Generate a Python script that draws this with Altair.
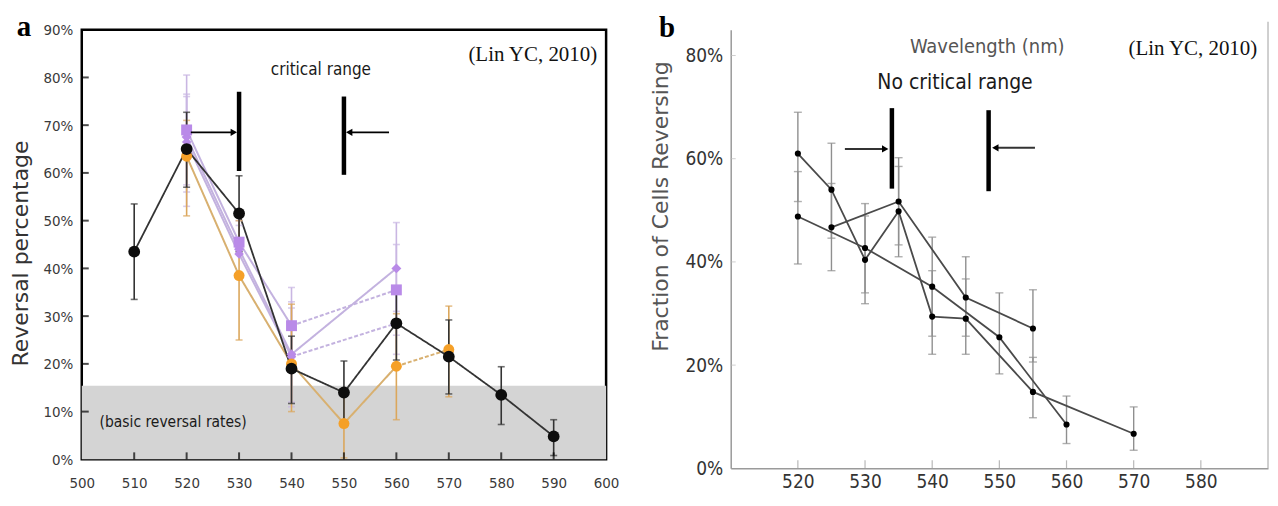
import altair as alt
import pandas as pd

# ---------------- panel a data ----------------
A_WL_BLACK = [510, 520, 530, 540, 550, 560, 570, 580, 590]
A_BLACK = [43.5, 65.0, 51.5, 19.0, 14.0, 28.5, 21.5, 13.5, 4.8]
A_BLACK_LO = [33.5, 57.0, 43.5, 11.7, 7.5, 20.8, 13.7, 7.3, 0.8]
A_BLACK_HI = [53.5, 72.7, 59.4, 25.8, 20.6, 35.8, 29.2, 19.4, 8.3]

A_WL_ORANGE = [520, 530, 540, 550, 560, 570]
A_ORANGE = [63.5, 38.5, 20.0, 7.5, 19.5, 23.0]
A_ORANGE_LO = [51.0, 25.0, 10.0, 0.3, 8.3, 13.1]
A_ORANGE_HI = [71.0, 50.0, 32.5, 14.5, 30.5, 32.1]

A_WL_PURPLE = [520, 530, 540, 560]
A_PURPLE_SQ = [69.0, 45.5, 28.0, 35.5]
A_PURPLE_SQ_LO = [57.5, 44.0, 20.5, 26.0]
A_PURPLE_SQ_HI = [80.5, 51.0, 36.0, 45.0]
A_PURPLE_DI = [67.5, 44.0, 22.0, 40.0]
A_PURPLE_DI_LO = [53.0, 43.5, 11.0, 31.0]
A_PURPLE_DI_HI = [76.5, 50.0, 33.0, 49.6]
A_PURPLE_TR = [66.5, 43.0, 21.5, 28.5]
A_PURPLE_TR_LO = [56.0, 43.5, 12.0, 22.0]
A_PURPLE_TR_HI = [76.0, 49.0, 31.7, 35.0]

A_BAND_TOP = 15.4
A_CRIT_WL = [530, 550]
A_CRIT_LO = [60.4, 59.6]
A_CRIT_HI = [77.0, 76.0]
A_ARROW_FROM = [520.8, 558.6]
A_ARROW_TO = [529.0, 551.0]
A_ARROW_Y = [68.5, 68.5]
A_ARROW_DIR = ["triangle-right", "triangle-left"]

A_X_TICKS = list(range(500, 601, 10))
A_Y_TICKS = list(range(0, 91, 10))

# ---------------- panel b data ----------------
B_S1_WL = [520, 530, 540, 550, 560]
B_S1 = [48.8, 42.7, 35.2, 25.4, 8.5]
B_S1_LO = [39.6, 34.0, 25.6, 18.3, 4.8]
B_S1_HI = [57.5, 51.3, 44.8, 34.0, 14.0]

B_S2_WL = [520, 525, 530, 535, 540, 545, 555, 570]
B_S2 = [61.0, 54.0, 40.4, 49.8, 29.4, 29.0, 14.8, 6.7]
B_S2_LO = [51.7, 44.6, 31.9, 41.0, 22.1, 22.1, 9.8, 3.5]
B_S2_HI = [69.0, 63.0, 48.9, 58.5, 38.3, 36.7, 21.5, 11.9]

B_S3_WL = [525, 535, 545, 555]
B_S3 = [46.7, 51.7, 33.1, 27.1]
B_S3_LO = [38.3, 43.3, 25.6, 20.6]
B_S3_HI = [55.2, 60.2, 41.0, 34.6]

B_CRIT_WL = [534.0, 548.4]
B_CRIT_LO = [54.2, 53.7]
B_CRIT_HI = [69.8, 69.4]
B_ARROW_FROM = [527.0, 555.3]
B_ARROW_TO = [533.0, 549.4]
B_ARROW_Y = [61.9, 62.1]
B_ARROW_DIR = ["triangle-right", "triangle-left"]

B_X_TICKS = list(range(520, 581, 10))
B_Y_TICKS = [0, 20, 40, 60, 80]

NARROW = "DejaVu Sans Condensed, Liberation Sans, sans-serif"
SANS = "DejaVu Sans Condensed, Liberation Sans, sans-serif"
SERIF = "Liberation Serif, Times New Roman, serif"

# ---------------- helpers ----------------
def series_df(wl, val, lo, hi):
    return pd.DataFrame({"wl": wl, "val": val, "lo": lo, "hi": hi})


def seg_df(name, wl, val, dashed_from=()):
    rows = []
    for i in range(len(wl) - 1):
        style = "dashed" if wl[i] in dashed_from else "solid"
        for j, k in enumerate((i, i + 1)):
            rows.append({"seg": f"{name}{i}", "style": style, "wl": wl[k], "val": val[k], "ord": j})
    return pd.DataFrame(rows)


# ---------------- panel a ----------------
WA, HA = 526, 431
xsA = alt.Scale(domain=[500, 600], nice=False, zero=False)
ysA = alt.Scale(domain=[0, 90], nice=False)
xaxA = alt.Axis(values=A_X_TICKS, title=None, labelFont=NARROW, labelFontSize=15,
                labelColor="#3a3a3a", labelPadding=16.5, ticks=False, domain=False,
                grid=False, labelFlush=False, labelOverlap=False)
yaxA = alt.Axis(values=A_Y_TICKS, labelExpr="datum.value + '%'", title="Reversal percentage",
                titleFont="DejaVu Sans", titleFontSize=22, titleFontWeight="normal",
                titleColor="#333", titleX=-49, titleY=224, labelFont=NARROW,
                labelFontSize=15, labelColor="#3a3a3a", labelPadding=9, ticks=False,
                domain=False, grid=False, labelOverlap=False)


def XA(f="wl"):
    return alt.X(f"{f}:Q", scale=xsA, axis=xaxA)


def YA(f="val"):
    return alt.Y(f"{f}:Q", scale=ysA, axis=yaxA)


band = alt.Chart(pd.DataFrame({"x1": [A_X_TICKS[0]], "x2": [A_X_TICKS[-1]], "y1": [0], "y2": [A_BAND_TOP]})).mark_rect(
    color="#d4d4d4").encode(x=XA("x1"), x2="x2", y=YA("y1"), y2="y2")

tickA_x = alt.Chart(pd.DataFrame({"wl": A_X_TICKS[1:-1]})).mark_tick(
    orient="vertical", color="black", size=7, thickness=2).encode(x=XA(), y=alt.value(HA - 3.5))
tickA_y = alt.Chart(pd.DataFrame({"val": A_Y_TICKS[1:-1]})).mark_tick(
    orient="horizontal", color="black", size=7, thickness=2).encode(y=YA(), x=alt.value(3.5))


def a_series(wl, val, lo, hi, name, line_color, mark_color, err_color, shape, size,
             dashed_from=(), width=2.0):
    d = series_df(wl, val, lo, hi)
    s = seg_df(name, wl, val, dashed_from)
    line = alt.Chart(s).mark_line(color=line_color, strokeWidth=width).encode(
        x=XA(), y=YA(), detail="seg:N", order="ord:Q",
        strokeDash=alt.StrokeDash("style:N", scale=alt.Scale(domain=["solid", "dashed"],
                                  range=[[1, 0], [4, 2]]), legend=None))
    rule = alt.Chart(d).mark_rule(color=err_color, strokeWidth=1.6).encode(x=XA(), y=YA("lo"), y2="hi")
    cap_lo = alt.Chart(d).mark_tick(orient="horizontal", color=err_color, size=7, thickness=1.6).encode(x=XA(), y=YA("lo"))
    cap_hi = alt.Chart(d).mark_tick(orient="horizontal", color=err_color, size=7, thickness=1.6).encode(x=XA(), y=YA("hi"))
    pts = alt.Chart(d).mark_point(shape=shape, filled=True, opacity=1, color=mark_color, size=size).encode(x=XA(), y=YA())
    return [line], [rule, cap_lo, cap_hi], [pts]


P_LINE, P_MARK, P_ERR = "#c3b2df", "#b98ae8", "#c9b6e2"
O_LINE, O_MARK, O_ERR = "#d8b070", "#f5a028", "#dba75c"
K_LINE, K_MARK, K_ERR = "#333333", "#0d0d0d", "#333333"

ptr = a_series(A_WL_PURPLE, A_PURPLE_TR, A_PURPLE_TR_LO, A_PURPLE_TR_HI, "ptr", P_LINE, P_MARK, P_ERR, "diamond", 90, dashed_from=(540,))
pdi = a_series(A_WL_PURPLE, A_PURPLE_DI, A_PURPLE_DI_LO, A_PURPLE_DI_HI, "pdi", P_LINE, P_MARK, P_ERR, "diamond", 100)
psq = a_series(A_WL_PURPLE, A_PURPLE_SQ, A_PURPLE_SQ_LO, A_PURPLE_SQ_HI, "psq", P_LINE, P_MARK, P_ERR, "square", 120, dashed_from=(540,))
org = a_series(A_WL_ORANGE, A_ORANGE, A_ORANGE_LO, A_ORANGE_HI, "org", O_LINE, O_MARK, O_ERR, "circle", 120, dashed_from=(560,))
blk = a_series(A_WL_BLACK, A_BLACK, A_BLACK_LO, A_BLACK_HI, "blk", K_LINE, K_MARK, K_ERR, "circle", 140, width=1.8)

crit_a = pd.DataFrame({"wl": A_CRIT_WL, "lo": A_CRIT_LO, "hi": A_CRIT_HI})
arr_a = pd.DataFrame({"x1": A_ARROW_FROM, "x2": A_ARROW_TO, "val": A_ARROW_Y, "shape": A_ARROW_DIR})
critA = alt.Chart(crit_a).mark_rule(color="black", strokeWidth=4.5).encode(x=XA(), y=YA("lo"), y2="hi")
arrA = alt.Chart(arr_a).mark_rule(color="black", strokeWidth=1.8).encode(x=XA("x1"), x2="x2", y=YA())
headA = alt.Chart(arr_a).mark_point(filled=True, opacity=1, color="black", size=55).encode(
    x=XA("x2"), y=YA(), shape=alt.Shape("shape:N", scale=None))

txtA = pd.DataFrame({
    "wl": [545.6, 503.4, 598.3],
    "val": [81.6, 7.9, 84.6],
    "t": ["critical range", "(basic reversal rates)", "(Lin YC, 2010)"],
})
tA1 = alt.Chart(txtA.iloc[[0]]).mark_text(font=NARROW, fontSize=17, color="#1a1a1a", align="center", baseline="middle").encode(x=XA(), y=YA(), text="t:N")
tA2 = alt.Chart(txtA.iloc[[1]]).mark_text(font=NARROW, fontSize=15.5, color="#1a1a1a", align="left", baseline="middle").encode(x=XA(), y=YA(), text="t:N")
tA3 = alt.Chart(txtA.iloc[[2]]).mark_text(font=SERIF, fontSize=21, color="#111", align="right", baseline="middle").encode(x=XA(), y=YA(), text="t:N")
labA = alt.Chart(pd.DataFrame({"t": ["a"]})).mark_text(font=SERIF, fontSize=29, fontWeight="bold", color="black", align="center", baseline="alphabetic").encode(
    x=alt.value(-58), y=alt.value(6), text="t:N")

layersA = [band]
for grp in (ptr, pdi, psq, org, blk):
    layersA += grp[0]
for grp in (ptr, pdi, psq, org, blk):
    layersA += grp[1]
for grp in (ptr, pdi, psq, org, blk):
    layersA += grp[2]
layersA += [tickA_x, tickA_y, critA, arrA, headA, tA1, tA2, tA3, labA]

panelA = alt.layer(*layersA).properties(
    width=WA, height=HA, view=alt.ViewBackground(stroke="black", strokeWidth=2.5))

# ---------------- panel b ----------------
WB, HB = 539, 440
xsB = alt.Scale(domain=[510, 590], nice=False, zero=False)
ysB = alt.Scale(domain=[0, 85], nice=False)
xaxB = alt.Axis(values=B_X_TICKS, title=None, labelFont=NARROW, labelFontSize=19,
                labelColor="#333", labelPadding=4.5, ticks=False, domain=True,
                domainColor="#9a9a9a", domainWidth=1.5, grid=False, labelFlush=False,
                labelOverlap=False)
yaxB = alt.Axis(values=B_Y_TICKS, labelExpr="datum.value + '%'", title="Fraction of Cells Reversing",
                titleFont="DejaVu Sans", titleFontSize=22, titleFontWeight="normal",
                titleColor="#555", titleX=-58, titleY=177, labelFont=NARROW,
                labelFontSize=19, labelColor="#333", labelPadding=8, ticks=False,
                domain=True, domainColor="#9a9a9a", domainWidth=1.5, grid=False,
                labelOverlap=False)


def XB(f="wl"):
    return alt.X(f"{f}:Q", scale=xsB, axis=xaxB)


def YB(f="val"):
    return alt.Y(f"{f}:Q", scale=ysB, axis=yaxB)


tickB_x = alt.Chart(pd.DataFrame({"wl": B_X_TICKS})).mark_tick(
    orient="vertical", color="#9a9a9a", size=8, thickness=1.2).encode(x=XB(), y=alt.value(HB - 4))
tickB_y = alt.Chart(pd.DataFrame({"val": B_Y_TICKS[1:]})).mark_tick(
    orient="horizontal", color="#bbbbbb", size=5, thickness=1).encode(y=YB(), x=alt.value(2.5))
rightB = alt.Chart(pd.DataFrame({"t": [0]})).mark_rule(color="#b0b0b0", strokeWidth=1.2).encode(
    x=alt.value(WB), y=alt.value(-8), y2=alt.value(HB))

b_lines, b_errs, b_pts = [], [], []
for wl, val, lo, hi in [(B_S1_WL, B_S1, B_S1_LO, B_S1_HI),
                        (B_S2_WL, B_S2, B_S2_LO, B_S2_HI),
                        (B_S3_WL, B_S3, B_S3_LO, B_S3_HI)]:
    d = series_df(wl, val, lo, hi)
    b_lines.append(alt.Chart(d).mark_line(color="#4a4a4a", strokeWidth=1.8).encode(x=XB(), y=YB(), order="wl:Q"))
    b_errs.append(alt.Chart(d).mark_rule(color="#8f8f8f", strokeWidth=1.4).encode(x=XB(), y=YB("lo"), y2="hi"))
    b_errs.append(alt.Chart(d).mark_tick(orient="horizontal", color="#8f8f8f", size=8, thickness=1.4).encode(x=XB(), y=YB("lo")))
    b_errs.append(alt.Chart(d).mark_tick(orient="horizontal", color="#8f8f8f", size=8, thickness=1.4).encode(x=XB(), y=YB("hi")))
    b_pts.append(alt.Chart(d).mark_point(shape="circle", filled=True, opacity=1, color="black", size=38).encode(x=XB(), y=YB()))

crit_b = pd.DataFrame({"wl": B_CRIT_WL, "lo": B_CRIT_LO, "hi": B_CRIT_HI})
arr_b = pd.DataFrame({"x1": B_ARROW_FROM, "x2": B_ARROW_TO, "val": B_ARROW_Y, "shape": B_ARROW_DIR})
critB = alt.Chart(crit_b).mark_rule(color="black", strokeWidth=4.5).encode(x=XB(), y=YB("lo"), y2="hi")
arrB = alt.Chart(arr_b).mark_rule(color="#333", strokeWidth=2).encode(x=XB("x1"), x2="x2", y=YB())
headB = alt.Chart(arr_b).mark_point(filled=True, opacity=1, color="black", size=55).encode(
    x=XB("x2"), y=YB(), shape=alt.Shape("shape:N", scale=None))

txtB = pd.DataFrame({
    "wl": [548.2, 543.4, 588.4],
    "val": [81.7, 74.6, 81.3],
    "t": ["Wavelength (nm)", "No critical range", "(Lin YC, 2010)"],
})
tB1 = alt.Chart(txtB.iloc[[0]]).mark_text(font=SANS, fontSize=20, color="#555", align="center", baseline="middle").encode(x=XB(), y=YB(), text="t:N")
tB2 = alt.Chart(txtB.iloc[[1]]).mark_text(font=NARROW, fontSize=21, color="#1a1a1a", align="center", baseline="middle").encode(x=XB(), y=YB(), text="t:N")
tB3 = alt.Chart(txtB.iloc[[2]]).mark_text(font=SERIF, fontSize=21, color="#111", align="right", baseline="middle").encode(x=XB(), y=YB(), text="t:N")
labB = alt.Chart(pd.DataFrame({"t": ["b"]})).mark_text(font=SERIF, fontSize=29, fontWeight="bold", color="black", align="center", baseline="alphabetic").encode(
    x=alt.value(-64), y=alt.value(7), text="t:N")

panelB = alt.layer(tickB_x, tickB_y, rightB, *b_errs, *b_lines, *b_pts, critB, arrB, headB,
                   tB1, tB2, tB3, labB).properties(
    width=WB, height=HB, view=alt.ViewBackground(stroke="transparent"))

chart = alt.hconcat(panelA, panelB, spacing=28).resolve_scale(
    x="independent", y="independent").properties(
    padding={"left": 0, "top": 2, "right": 0, "bottom": 0}, background="white")

chart.save("out.html", embed_options={"renderer": "svg", "actions": False})
